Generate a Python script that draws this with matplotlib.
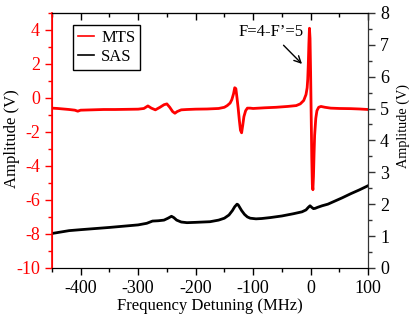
import matplotlib
matplotlib.use("Agg")
import matplotlib.pyplot as plt
from matplotlib.ticker import MultipleLocator

plt.rcParams['font.family'] = ['Liberation Serif', 'DejaVu Serif']
plt.rcParams['axes.unicode_minus'] = False

# MTS signal (left axis, V)
mts_x = [-450, -440, -430, -420, -410, -405, -400, -380, -360, -340, -320, -300, -290, -283, -277,
         -270, -262, -255, -250, -245, -240, -236, -232, -225, -215, -200, -180, -160, -150, -145,
         -140, -137, -134, -132, -130, -128, -126, -124, -122, -120, -118, -116, -113, -110, -105,
         -100, -90, -80, -60, -40, -25, -18, -12, -8, -6, -5, -4, -3, -2, -1, 0, 1, 2, 3, 4, 5, 6,
         7, 9, 11, 14, 18, 25, 35, 50, 70, 85, 100]
mts_y = [-0.6, -0.62, -0.65, -0.68, -0.72, -0.78, -0.72, -0.7, -0.68, -0.68, -0.67, -0.66, -0.62, -0.47, -0.6,
         -0.7, -0.55, -0.4, -0.35, -0.55, -0.8, -0.9, -0.8, -0.7, -0.68, -0.66, -0.65, -0.62, -0.55, -0.45,
         -0.3, -0.1, 0.25, 0.6, 0.55, 0.0, -0.6, -1.3, -1.9, -2.05, -1.6, -1.1, -0.75, -0.6, -0.6,
         -0.62, -0.6, -0.58, -0.55, -0.5, -0.45, -0.35, -0.15, 0.2, 0.6, 1.1, 2.0, 3.2, 4.1, 3.5, 1.5, -1.0, -3.5, -5.1, -5.4, -4.6, -3.3,
         -2.2, -1.2, -0.75, -0.55, -0.5, -0.55, -0.6, -0.62, -0.63, -0.65, -0.68]

# SAS signal (right axis, V)
sas_x = [-450, -420, -400, -350, -300, -285, -275, -265, -255, -248, -242, -238, -233, -225, -215,
         -200, -175, -160, -150, -142, -136, -132, -128, -126, -124, -120, -115, -110, -105, -95,
         -85, -70, -50, -30, -15, -8, -4, -1, 2, 5, 8, 12, 20, 30, 40, 55, 70, 85, 100]
sas_y = [1.08, 1.17, 1.2, 1.27, 1.35, 1.4, 1.47, 1.48, 1.5, 1.56, 1.62, 1.58, 1.5, 1.44, 1.42,
         1.43, 1.45, 1.5, 1.56, 1.66, 1.8, 1.92, 2.0, 1.98, 1.92, 1.8, 1.68, 1.6, 1.56, 1.54,
         1.55, 1.58, 1.63, 1.7, 1.76, 1.82, 1.9, 1.95, 1.9, 1.86, 1.87, 1.9, 1.95, 2.0, 2.08, 2.2, 2.33, 2.45, 2.58]

fig = plt.figure(figsize=(4.15, 3.32), dpi=100)
ax = fig.add_axes([0.125, 0.193, 0.762, 0.768])
ax2 = ax.twinx()

l1, = ax.plot(mts_x, mts_y, color='red', lw=2.0, label='MTS')
l2, = ax2.plot(sas_x, sas_y, color='black', lw=2.0, label='SAS')

ax.set_xlim(-450, 100)
ax.set_ylim(-10, 5)
ax2.set_ylim(0, 8)

ax.xaxis.set_major_locator(MultipleLocator(100))
ax.xaxis.set_minor_locator(MultipleLocator(50))
ax.yaxis.set_major_locator(MultipleLocator(2))
ax.yaxis.set_minor_locator(MultipleLocator(1))
ax2.yaxis.set_major_locator(MultipleLocator(1))
ax2.yaxis.set_minor_locator(MultipleLocator(0.5))

fs = 13
ax.tick_params(axis='x', which='both', direction='out', labelsize=fs, colors='black')
ax.tick_params(axis='y', which='both', direction='out', labelsize=fs, colors='red')
ax.tick_params(which='major', length=5, width=1)
ax.tick_params(which='minor', length=3, width=1)
ax2.tick_params(axis='y', which='both', direction='out', labelsize=fs, colors='#333333')
ax2.tick_params(which='major', length=5, width=1)
ax2.tick_params(which='minor', length=3, width=1)
for lab in ax2.get_yticklabels():
    lab.set_color('black')

top = ax.secondary_xaxis('top')
top.xaxis.set_major_locator(MultipleLocator(100))
top.xaxis.set_minor_locator(MultipleLocator(50))
top.tick_params(which='both', direction='in', labeltop=False)
top.tick_params(which='major', length=5, width=1)
top.tick_params(which='minor', length=3, width=1)

ax2.spines['left'].set_color('red')
ax2.spines['left'].set_linewidth(1.2)
ax.spines['left'].set_color('red')
ax2.spines['right'].set_color('#333333')

ax.set_xlabel('Frequency Detuning (MHz)', fontsize=12, labelpad=1)
ax.set_ylabel('Amplitude (V)', fontsize=12, color='black')
ax.yaxis.set_label_coords(-0.101, 0.506)
ax2.set_ylabel('Amplitude (V)', fontsize=10.3)
ax2.yaxis.set_label_coords(1.089, 0.555)

ax.annotate('F=4-F\u2019=5', xy=(-15, 2.0), xytext=(-69, 3.85), fontsize=12,
            ha='center', va='center',
            arrowprops=dict(arrowstyle='->', color='black', lw=1, shrinkA=2, shrinkB=0))

leg = ax2.legend([l1, l2], ['MTS', 'SAS'], loc='upper left', bbox_to_anchor=(0.066, 0.953),
                 borderaxespad=0, fontsize=12, fancybox=False, framealpha=1,
                 edgecolor='black', handlelength=1.0, handletextpad=0.4,
                 borderpad=0.3, labelspacing=0.2)
leg.get_frame().set_linewidth(1.0)
for h in leg.get_lines():
    h.set_linewidth(1.2)

fig.savefig('out.png', dpi=100)
